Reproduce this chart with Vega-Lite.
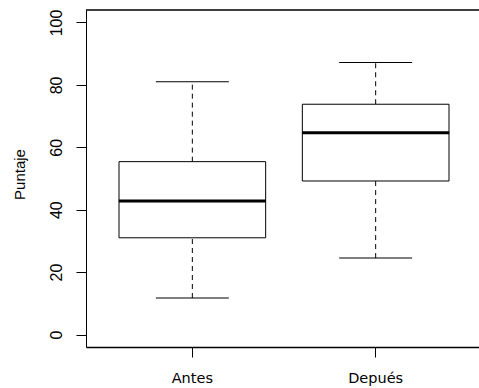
{
  "$schema": "https://vega.github.io/schema/vega-lite/v6.json",
  "width": 393,
  "height": 337,
  "autosize": {"type": "none"},
  "padding": {"left": 86, "top": 10, "right": 0, "bottom": 41},
  "background": "white",
  "config": {
    "view": {"stroke": null},
    "axis": {"grid": false, "domainColor": "black", "tickColor": "black", "labelColor": "black", "titleColor": "black", "domainWidth": 1, "tickWidth": 1, "tickSize": 10},
    "axisX": {"labelAngle": 0, "labelPadding": 25, "labelBaseline": "alphabetic", "labelFont": "DejaVu Sans", "labelFontSize": 14.5, "domainWidth": 1.5},
    "axisY": {"tickCount": 5, "labelAngle": 270, "labelAlign": "center", "labelBaseline": "alphabetic", "labelPadding": 15, "labelFont": "Liberation Sans", "labelFontSize": 16,
      "titleFont": "Liberation Sans", "titleFontSize": 15, "titleFontWeight": "normal", "titleAngle": 270, "titleAlign": "center", "titleBaseline": "alphabetic", "titleX": -62, "titleY": 164}
  },
  "data": {
    "values": [
      {"group": "Antes", "lower": 11.7, "q1": 31.0, "median": 42.8, "q3": 55.4, "upper": 81.0},
      {"group": "Depués", "lower": 24.5, "q1": 49.2, "median": 64.7, "q3": 73.8, "upper": 87.2}
    ]
  },
  "layer": [
    {
      "mark": {"type": "rule", "color": "black", "strokeWidth": 1, "strokeDash": [5, 4]},
      "encoding": {
        "x": {"field": "group", "type": "nominal", "sort": null, "title": null,
          "scale": {"type": "band", "range": [0, 396], "paddingInner": 0.2, "paddingOuter": 0.18}},
        "y": {"field": "lower", "type": "quantitative", "title": "Puntaje",
          "scale": {"domain": [-4, 104], "nice": false, "zero": false}},
        "y2": {"field": "q1"}
      }
    },
    {
      "mark": {"type": "rule", "color": "black", "strokeWidth": 1, "strokeDash": [5, 4]},
      "encoding": {
        "x": {"field": "group", "type": "nominal", "sort": null, "title": null},
        "y": {"field": "q3", "type": "quantitative", "title": "Puntaje"},
        "y2": {"field": "upper"}
      }
    },
    {
      "mark": {"type": "tick", "color": "black", "size": 73, "thickness": 1, "opacity": 1},
      "encoding": {
        "x": {"field": "group", "type": "nominal", "sort": null, "title": null},
        "y": {"field": "lower", "type": "quantitative", "title": "Puntaje"}
      }
    },
    {
      "mark": {"type": "tick", "color": "black", "size": 73, "thickness": 1, "opacity": 1},
      "encoding": {
        "x": {"field": "group", "type": "nominal", "sort": null, "title": null},
        "y": {"field": "upper", "type": "quantitative", "title": "Puntaje"}
      }
    },
    {
      "mark": {"type": "rect", "fill": "white", "stroke": "black", "strokeWidth": 1},
      "encoding": {
        "x": {"field": "group", "type": "nominal", "sort": null, "title": null},
        "y": {"field": "q1", "type": "quantitative", "title": "Puntaje"},
        "y2": {"field": "q3"}
      }
    },
    {
      "mark": {"type": "tick", "color": "black", "size": 147, "thickness": 3, "opacity": 1},
      "encoding": {
        "x": {"field": "group", "type": "nominal", "sort": null, "title": null},
        "y": {"field": "median", "type": "quantitative", "title": "Puntaje"}
      }
    },
    {
      "mark": {"type": "rule", "color": "black", "strokeWidth": 1},
      "encoding": {
        "y": {"datum": 104, "type": "quantitative", "title": "Puntaje"}
      }
    }
  ]
}
